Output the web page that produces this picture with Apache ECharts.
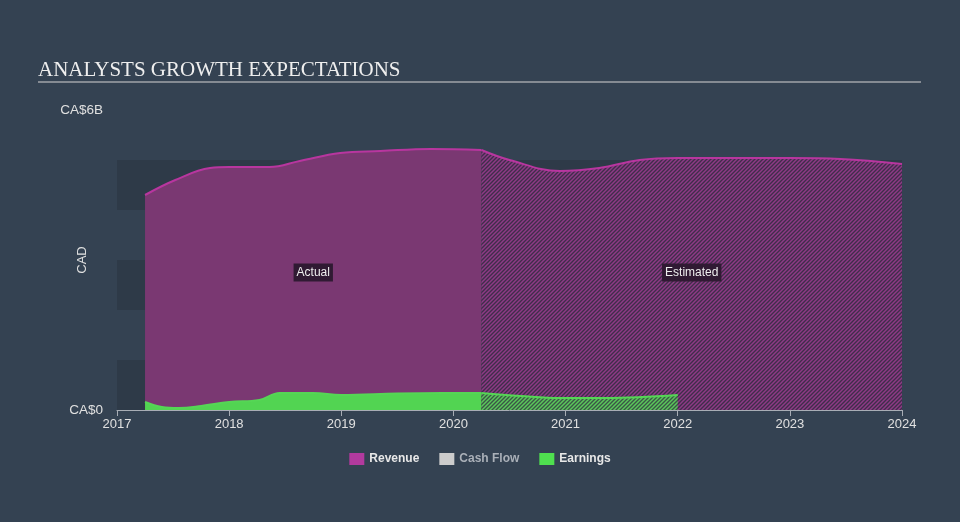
<!DOCTYPE html>
<html>
<head>
<meta charset="utf-8">
<script src="https://cdn.jsdelivr.net/npm/echarts@6/dist/echarts.min.js"></script>
<style>
  html, body { margin: 0; padding: 0; background: #344252; }
  #chart { width: 960px; height: 522px; }
</style>
</head>
<body>
<div id="chart"></div>
<script>
// values in CA$ billions, x = fractional year
const revenueActual = [[2017.25, 4.3], [2017.52, 4.6], [2017.83, 4.84], [2018.0, 4.86], [2018.36, 4.86], [2018.63, 4.98], [2018.99, 5.14], [2019.35, 5.18], [2019.8, 5.22], [2020.25, 5.2]]
const revenueEstimate = [[2020.25, 5.2], [2020.5, 5.0], [2020.95, 4.78], [2021.3, 4.84], [2021.66, 5.0], [2022.0, 5.04], [2023.0, 5.04], [2023.45, 5.02], [2024.0, 4.92]]
const earningsActual = [[2017.25, 0.16], [2017.4, 0.06], [2017.55, 0.04], [2017.75, 0.08], [2018.0, 0.16], [2018.27, 0.2], [2018.45, 0.34], [2018.75, 0.34], [2019.0, 0.3], [2019.5, 0.33], [2019.9, 0.34], [2020.25, 0.34]]
const earningsEstimate = [[2020.25, 0.34], [2020.6, 0.28], [2020.95, 0.24], [2021.35, 0.24], [2022.0, 0.3]]
const cashFlow = []
const periods = [['Actual', 2017.25, 2020.25], ['Estimated', 2020.25, 2024]]

function hatch (bg, fg) {
  const c = document.createElement('canvas')
  c.width = 4
  c.height = 4
  const ctx = c.getContext('2d')
  ctx.fillStyle = bg
  ctx.fillRect(0, 0, 4, 4)
  ctx.strokeStyle = fg
  ctx.lineWidth = 1.5
  ctx.beginPath()
  ctx.moveTo(0, 4); ctx.lineTo(4, 0)
  ctx.moveTo(-1, 1); ctx.lineTo(1, -1)
  ctx.moveTo(3, 5); ctx.lineTo(5, 3)
  ctx.stroke()
  return { image: c, repeat: 'repeat' }
}

const chart = echarts.init(document.getElementById('chart'))
chart.setOption({
  backgroundColor: '#344252',
  animation: false,
  graphic: [
    {
      type: 'text', left: 38, top: 60,
      style: { text: 'ANALYSTS GROWTH EXPECTATIONS', fill: '#eeeeee', font: '21px "Liberation Serif", serif' }
    },
    {
      type: 'line', shape: { x1: 38, y1: 82, x2: 921, y2: 82 },
      style: { stroke: '#a0a4aa', lineWidth: 1.5 }
    }
  ],
  grid: { left: 117, right: 58, top: 110, bottom: 112 },
  legend: {
    data: [
      { name: 'Revenue' },
      { name: 'Cash Flow', textStyle: { color: '#aab0b8' } },
      { name: 'Earnings' }
    ],
    bottom: 52,
    left: 'center',
    icon: 'rect',
    itemWidth: 15,
    itemHeight: 12,
    itemGap: 20,
    textStyle: { color: '#e8e8e8', fontSize: 12, fontWeight: 'bold', fontFamily: 'Liberation Sans, Arial' }
  },
  xAxis: {
    type: 'value', min: 2017, max: 2024, interval: 1,
    axisLine: { lineStyle: { color: '#a8adb5' } },
    axisTick: { show: true, length: 6, lineStyle: { color: '#a8adb5' } },
    axisLabel: { color: '#e0e0e0', fontSize: 13, fontFamily: 'Liberation Sans, Arial', formatter: v => String(v) },
    splitLine: { show: false }
  },
  yAxis: {
    type: 'value', min: 0, max: 6, interval: 1,
    name: 'CAD', nameLocation: 'middle', nameGap: 28, nameRotate: 90, nameMoveOverlap: false,
    nameTextStyle: { color: '#e0e0e0', fontSize: 13, fontFamily: 'Liberation Sans, Arial' },
    axisLine: { show: false },
    axisTick: { show: false },
    axisLabel: {
      color: '#e0e0e0', fontSize: 13.5, margin: 14, fontFamily: 'Liberation Sans, Arial',
      formatter: v => (v === 0 ? 'CA$0' : v === 6 ? 'CA$6B' : '')
    },
    splitLine: { show: false },
    splitArea: { show: true, areaStyle: { color: ['#2e3a48', 'rgba(0,0,0,0)'] } }
  },
  series: [
    {
      name: 'Revenue', type: 'line', smooth: 0.4, symbol: 'none', data: revenueActual,
      color: '#b23a9e',
      lineStyle: { color: '#b8369f', width: 2 },
      areaStyle: { color: '#7a3872', opacity: 1 }
    },
    {
      name: 'Revenue', type: 'line', smooth: 0.4, symbol: 'none', data: revenueEstimate,
      color: '#b23a9e',
      lineStyle: { color: '#b8369f', width: 2 },
      areaStyle: { color: hatch('#3f2d4a', '#8e3a86'), opacity: 1 }
    },
    {
      name: 'Earnings', type: 'line', smooth: 0.4, symbol: 'none', data: earningsActual,
      color: '#4fdf4f',
      lineStyle: { color: '#55d655', width: 2 },
      areaStyle: { color: '#52d452', opacity: 1 }
    },
    {
      name: 'Earnings', type: 'line', smooth: 0.4, symbol: 'none', data: earningsEstimate,
      color: '#4fdf4f',
      lineStyle: { color: '#55d655', width: 2 },
      areaStyle: { color: hatch('#3a5546', '#5bc85b'), opacity: 1 }
    },
    {
      name: 'Cash Flow', type: 'line', symbol: 'none', data: cashFlow, color: '#cccccc', z: 10,
      markArea: {
        silent: true,
        z: 10,
        itemStyle: { color: 'rgba(0,0,0,0)' },
        label: {
          show: true, position: 'inside', color: '#eeeeee', fontSize: 12,
          backgroundColor: '#301a33', padding: [3, 3], fontFamily: 'Liberation Sans, Arial'
        },
        data: periods.map(p => [{ name: p[0], xAxis: p[1], yAxis: 0 }, { xAxis: p[2], yAxis: 5.5 }])
      }
    }
  ]
})
</script>
</body>
</html>
